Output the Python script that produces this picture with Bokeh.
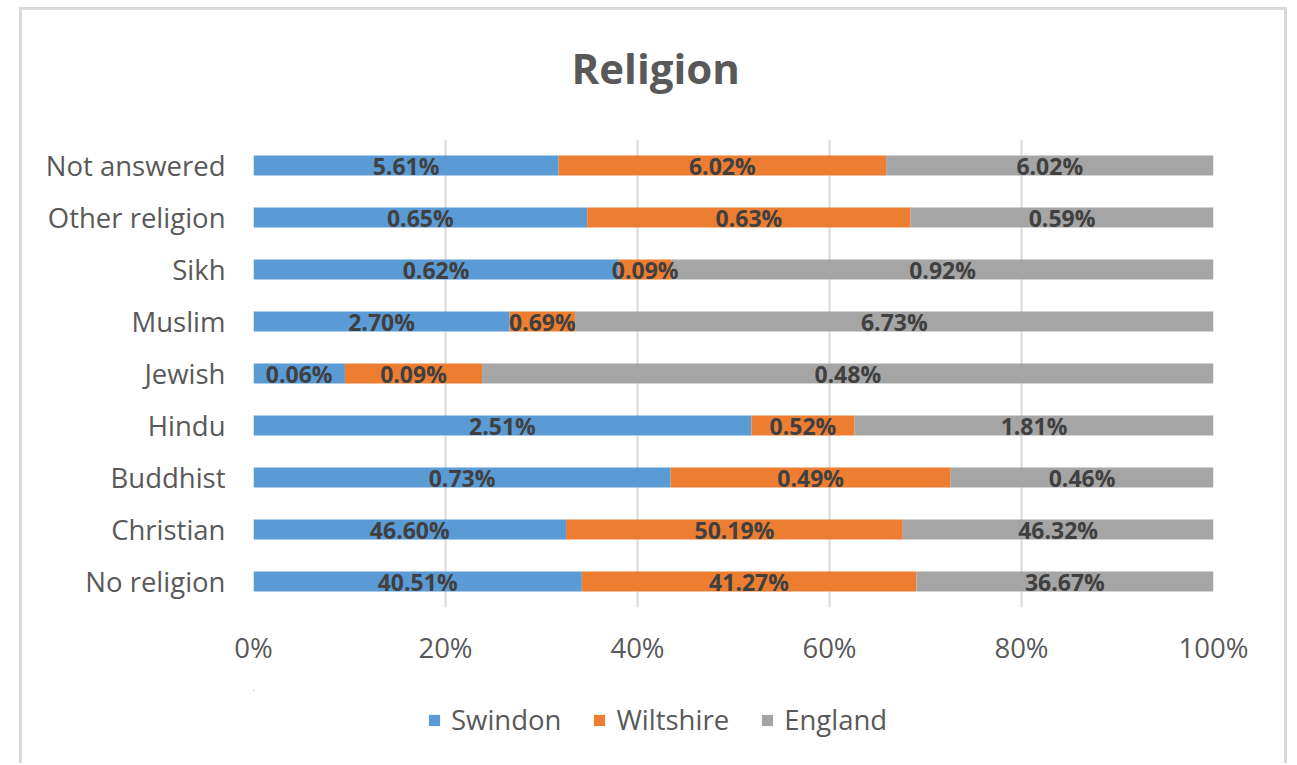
from bokeh.plotting import figure
from bokeh.layouts import column
from bokeh.models import (ColumnDataSource, FixedTicker, Legend, LegendItem,
                          LabelSet, Label, Range1d)
from bokeh.core.properties import value
from bokeh.embed import file_html
from bokeh.resources import INLINE

# ---- data ----
categories = ["No religion", "Christian", "Buddhist", "Hindu", "Jewish",
              "Muslim", "Sikh", "Other religion", "Not answered"]
swindon = [40.51, 46.60, 0.73, 2.51, 0.06, 2.70, 0.62, 0.65, 5.61]
wiltshire = [41.27, 50.19, 0.49, 0.52, 0.09, 0.69, 0.09, 0.63, 6.02]
england = [36.67, 46.32, 0.46, 1.81, 0.48, 6.73, 0.92, 0.59, 6.02]
series_names = ["Swindon", "Wiltshire", "England"]
series_colors = ["#5B9BD5", "#ED7D31", "#A5A5A5"]
x_ticks = [0, 20, 40, 60, 80, 100]
x_tick_labels = ["0%", "20%", "40%", "60%", "80%", "100%"]
title_text = "Religion"

FONT = "Open Sans"
TEXT_COL = "#595959"
BORDER = "3px solid #D9D9D9"
W = 1268


def strip(height, styles):
    f = figure(width=W, height=height, output_backend="svg", toolbar_location=None,
               x_range=Range1d(0, 100), y_range=Range1d(0, 100), min_border=0,
               outline_line_color=None, border_fill_color="white")
    f.styles = styles
    f.axis.visible = False
    f.grid.visible = False
    return f


# ---- title strip ----
tp = strip(100, {"border-left": BORDER, "border-top": BORDER, "border-right": BORDER})
tp.add_layout(Label(x=41.9, y=43, text=title_text, text_align="center",
                    text_baseline="middle", text_font=FONT, text_font_style="bold",
                    text_font_size="42px", text_color=TEXT_COL))

# ---- main chart ----
p = figure(width=W, height=583, output_backend="svg", toolbar_location=None,
           x_range=Range1d(0, 100), y_range=Range1d(-0.5, 8.5),
           min_border_left=231, min_border_right=77, min_border_top=32,
           min_border_bottom=83, outline_line_color=None,
           background_fill_color="white", border_fill_color="white")
p.styles = {"border-left": BORDER, "border-right": BORDER}

series = [swindon, wiltshire, england]
ys = list(range(len(categories)))
totals = [sum(v) for v in zip(*series)]
cum = [0.0] * len(categories)
sources = []
for name, vals, col in zip(series_names, series, series_colors):
    shares = [v / t * 100 for v, t in zip(vals, totals)]
    left = cum[:]
    right = [l + s for l, s in zip(left, shares)]
    mid = [(l + r) / 2 for l, r in zip(left, right)]
    src = ColumnDataSource(dict(y=ys, left=left, right=right, mid=mid,
                                txt=["%.2f%%" % v for v in vals]))
    sources.append(src)
    p.hbar(y="y", left="left", right="right", height=0.385, source=src,
           fill_color=col, line_color=None)
    p.add_layout(LabelSet(x="mid", y="y", text="txt", source=src,
                          text_align="center", text_baseline="middle",
                          text_font=value(FONT), text_font_style="bold",
                          text_font_size="23px", text_color="#404040"))
    cum = right

p.xaxis.ticker = FixedTicker(ticks=x_ticks)
p.xaxis.major_label_overrides = {t: l for t, l in zip(x_ticks, x_tick_labels)}
p.yaxis.ticker = FixedTicker(ticks=ys)
p.yaxis.major_label_overrides = {i: c for i, c in zip(ys, categories)}
for ax in (p.xaxis, p.yaxis):
    ax.axis_line_color = None
    ax.major_tick_line_color = None
    ax.minor_tick_line_color = None
    ax.major_label_text_font = FONT
    ax.major_label_text_font_size = "27.5px"
    ax.major_label_text_color = TEXT_COL
p.xaxis.major_label_standoff = 15
p.yaxis.major_label_standoff = 22

p.ygrid.grid_line_color = None
p.xgrid.grid_line_color = "#D9D9D9"
p.xgrid.grid_line_width = 2

# ---- legend strip (keys reuse the series sources, zero height, off-screen) ----
lg = strip(73, {"border-left": BORDER, "border-right": BORDER})
lg.x_range = Range1d(500, 600)
lg.y_range = Range1d(-200, -100)
key_renderers = []
for src, col in zip(sources, series_colors):
    key_renderers.append(lg.hbar(y="y", left="left", right="right", height=0,
                                 source=src, fill_color=col, line_color=None))
legend = Legend(items=[LegendItem(label=n, renderers=[r])
                       for n, r in zip(series_names, key_renderers)],
                orientation="horizontal", location=(174, 25),
                glyph_width=14, glyph_height=14, label_standoff=10, spacing=31,
                padding=0, margin=0, border_line_color=None,
                background_fill_alpha=0, label_text_font=FONT,
                label_text_font_size="27.5px", label_text_color=TEXT_COL)
lg.add_layout(legend)

layout = column(tp, p, lg, spacing=0)
layout.margin = (7, 0, 0, 19)

open("out.html", "w").write(file_html(layout, INLINE))
